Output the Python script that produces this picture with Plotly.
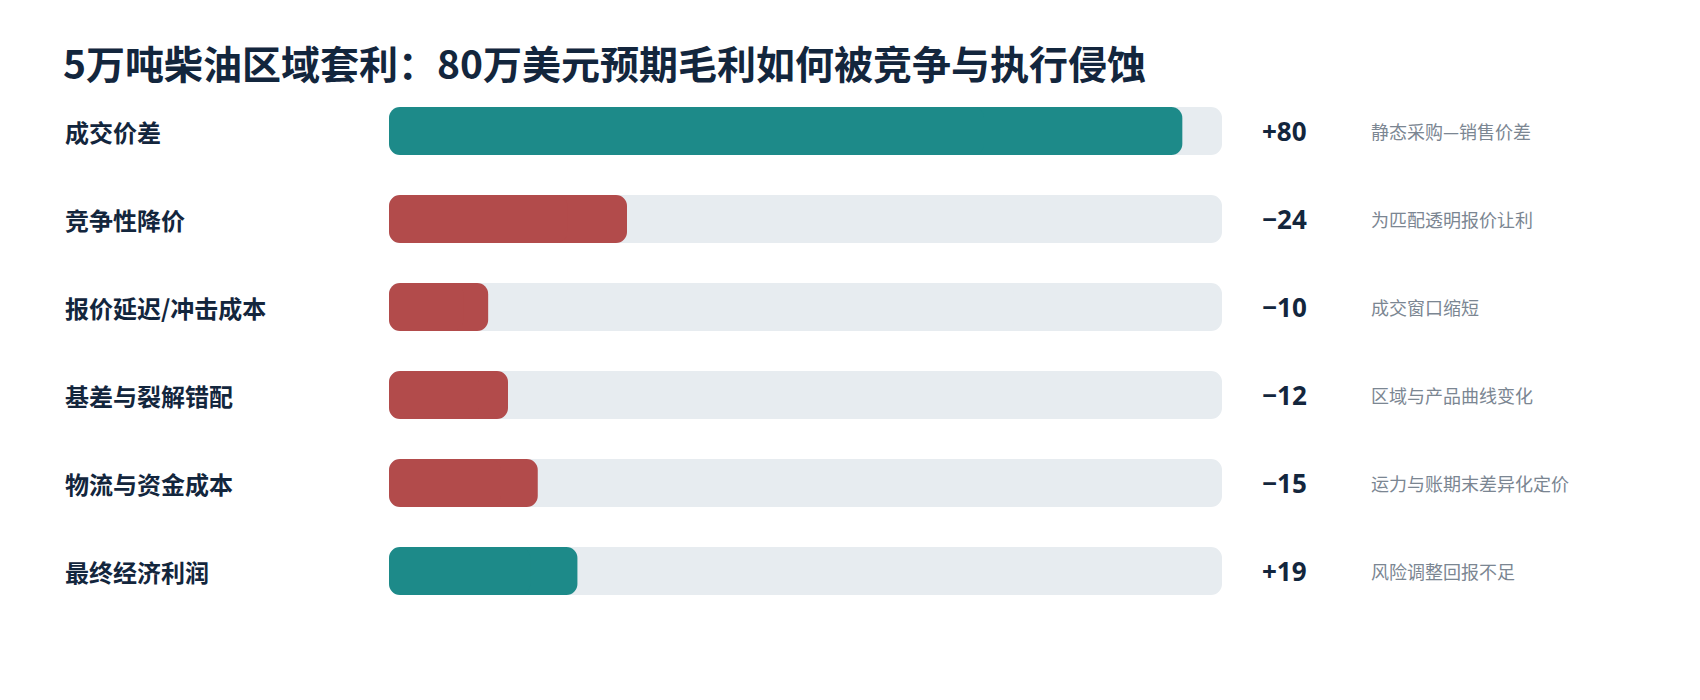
import plotly.graph_objects as go

title = "5万吨柴油区域套利：80万美元预期毛利如何被竞争与执行侵蚀"
categories = ["成交价差", "竞争性降价", "报价延迟/冲击成本", "基差与裂解错配", "物流与资金成本", "最终经济利润"]
values = [80, 24, 10, 12, 15, 19]
signs = ["+", "−", "−", "−", "−", "+"]
notes = ["静态采购—销售价差", "为匹配透明报价让利", "成交窗口缩短", "区域与产品曲线变化", "运力与账期末差异化定价", "风险调整回报不足"]
kinds = ["pos", "neg", "neg", "neg", "neg", "pos"]

W, H = 1700, 700
FONT = "Noto Sans CJK SC, Noto Sans, sans-serif"
NAVY = "#13263d"
GRAY = "#7b8692"
TRACK = "#e7ecf0"
COLORS = {"pos": "#1d8a89", "neg": "#b24b4b"}
track_max = max(values) * 1.05
bar_w = 48 / 88
radius = 11

fig = go.Figure()

def rounded_bar(xvals, color):
    # two strongly overlapping halves so that both outer ends get rounded corners
    left_len = [v * 0.75 for v in xvals]
    right_base = [v * 0.25 for v in xvals]
    right_len = [v * 0.75 for v in xvals]
    fig.add_trace(go.Bar(y=categories, x=right_len, base=right_base, orientation="h",
                         marker=dict(color=color, cornerradius=radius, line=dict(width=0)),
                         width=bar_w, hoverinfo="skip", showlegend=False))
    fig.add_trace(go.Bar(y=categories, x=[-v for v in left_len], base=left_len, orientation="h",
                         marker=dict(color=color, cornerradius=radius, line=dict(width=0)),
                         width=bar_w, hoverinfo="skip", showlegend=False))

rounded_bar([track_max] * len(categories), TRACK)
rounded_bar(values, [COLORS[k] for k in kinds])

annotations = []
for cat, v, s, note in zip(categories, values, signs, notes):
    annotations.append(dict(xref="paper", yref="y", x=55 / W, y=cat, text=cat, showarrow=False,
                            xanchor="left", yanchor="middle",
                            font=dict(family=FONT, size=24, color=NAVY, weight="bold")))
    annotations.append(dict(xref="paper", yref="y", x=1301 / W, y=cat, text=f"{s}{v}", showarrow=False,
                            xanchor="right", yanchor="middle",
                            font=dict(family="Noto Sans, " + FONT, size=26, color=NAVY, weight="bold")))
    annotations.append(dict(xref="paper", yref="y", x=1361 / W, y=cat, text=note, showarrow=False,
                            xanchor="left", yanchor="middle",
                            font=dict(family=FONT, size=18, color=GRAY)))

fig.update_layout(
    width=W, height=H,
    margin=dict(l=0, r=0, t=79, b=93),
    paper_bgcolor="white", plot_bgcolor="white",
    barmode="overlay",
    title=dict(text=title, xref="container", yref="container", x=55 / W, y=1 - 57 / H,
               xanchor="left", yanchor="middle",
               font=dict(family=FONT, size=39, color=NAVY, weight="bold")),
    xaxis=dict(domain=[381 / W, 1214 / W], range=[0, track_max], visible=False, fixedrange=True),
    yaxis=dict(categoryorder="array", categoryarray=categories, autorange="reversed",
               visible=False, fixedrange=True),
    annotations=annotations,
    showlegend=False,
)

fig.write_html("out.html", config={"displayModeBar": False})
